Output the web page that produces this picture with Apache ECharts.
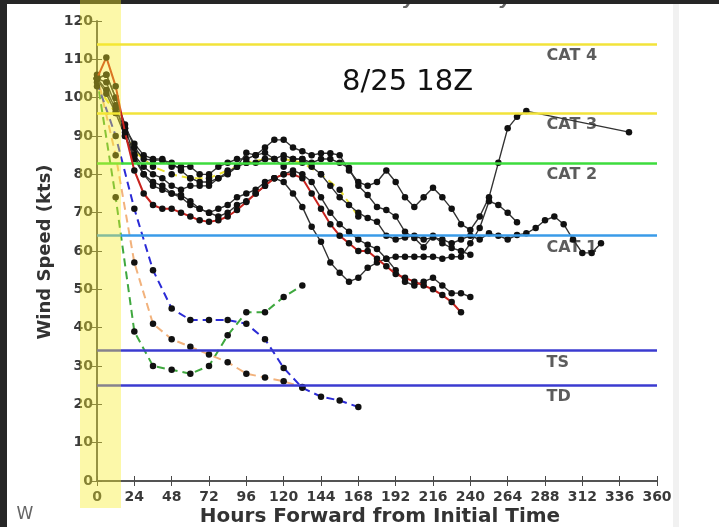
<!DOCTYPE html>
<html><head><meta charset="utf-8">
<script src="https://cdn.jsdelivr.net/npm/echarts@6/dist/echarts.min.js"></script>
<style>html,body{margin:0;padding:0;background:#fff;}#c{width:719px;height:527px;}</style>
</head><body><div id="c"></div>
<script>
// ---- data ----
const hours6 = [0,6,12,18,24,30,36,42,48,54,60,66,72,78,84,90,96,102,108,114,120,126,132,138,144,150,156,162,168,174,180,186,192,198,204,210,216,222,228,234,240,246,252,258,264,270,276,282,288,294,300,306,312,318,324];
const hours12 = [0,12,24,36,48,60,72,84,96,108,120,132,144,156,168];
const hoursA = [0,6,12,18,24,30,36,42,48,54,60,66,72,78,84,90,96,102,108,114,120,126,132,138,144,150,156,162,168,174,180,186,192,198,204,210,216,222,228,234,240,246,252,258,264,270,276,342];

const blackA = [105,102,97,92,88,85,84,84,82,82, 82,80,80,82,83,84,84,85,87,89, 89,87,86,85,85.5,85.5,85,81,78,77, 78,81,78,74,71.5,74,76.5,74,71,67, 65.5,69,74,83,92,95,96.5, 91];
const blackB = [105,104,98,90,84,80,78,77,75,74, 72,71,70,71,72,74,75,76,78,79, 78,75,71.5,66.3,62.4,57,54.3,52,53,55.6, 57,58,58.5,58.5,58.5,58.5,58.5,58,58.5,58.5, 62,66,73,72,70,67.5];
const blackC = [105,106,100,92,85,82,80,79,77,76, 77,77,77,79,80,82,83,83,84,84, 85,84,84,82,80,77,74,72,70,68.6, 67.6,64,63,63.5,64,63,63.5,63,62,63, 64,63,64.6,64,63,64.2,64.6,66,68,69, 67,63,59.5,59.5,62];
const blackD = [105,101,96,90,85,80,77,76,75,74.6, 73,71,70,69,70,72,73,75,77,79, 80,81,80,78,74,70,67,65,63,61.6, 60.5,58,55,52,51,52,53,51,49,49, 48];
const blackE = [105,106,100,93,87,84,83.7,83.7,83,81, 79,78,78,79,80.6,82,85.6,85,85.6,84, 82,84,84,83,84,84,83,81.7,77,74.6, 71.5,70.7,69,65,63.4,61,64,62,60.8,60, 59];
const redLine = [105,110.5,103,91,81,75,72,71,71,70, 69,68,67.6,68,69,70.7,72.8,75,77,79, 80,80,79,75,71,67,64,62,60,60, 58,56,54,53,52,51,50,48.5,46.7,44];

const yellowDash = [103,96,86,82,80,79,79,81,83,84,84,83,80,76,69];
const greenDash = [105,74,39,30,29,28,30,38,44,44,48,51];
const orangeDash = [106,85,57,41,37,35,33,31,28,27,26,24.5];
const blueDash = [104,90,71,55,45,42,42,42,41,37,29.5,24.3,22,21,19.3];

const catNames = ['CAT 4','CAT 3','CAT 2','CAT 1','TS','TD'];
const catLevels = [114,96,83,64,34,25];
const catColors = ['#f2e33a','#f2e33a','#3ddc3d','#3a9be8','#3b3bd0','#3b3bd0'];
const xTickLabels = ['0','24','48','72','96','120','144','168','192','216','240','264','288','312','336','360'];
const yTickLabels = ['0','10','20','30','40','50','60','70','80','90','100','110','120'];

// ---- chart ----
function pairs(hrs, vals){ return vals.map((v,i)=>[hrs[i], v]); }
const chart = echarts.init(document.getElementById('c'), null, {renderer:'canvas'});
const axisCol = '#4a4a4a';
const labelFont = {fontFamily:'DejaVu Sans', fontWeight:'bold', fontSize:14, color:'#3a3a3a'};

function blackSeries(hrs, vals){
  return {type:'line', data:pairs(hrs, vals), symbol:'circle', symbolSize:6.5, showSymbol:true,
    itemStyle:{color:'#111'}, lineStyle:{color:'#333', width:1.4}, z:4, silent:true};
}
function dashSeries(hrs, vals, col){
  return {type:'line', data:pairs(hrs, vals), symbol:'circle', symbolSize:6.5,
    itemStyle:{color:'#111'}, lineStyle:{color:col, width:2, type:[8,5]}, z:3, silent:true};
}

const series = [
  {type:'line', data:[], silent:true, z:1,
   markLine:{silent:true, symbol:['none','none'], label:{show:false}, animation:false,
     data: catLevels.map((v,i)=>({yAxis:v, lineStyle:{color:catColors[i], width:2.5, type:'solid'}}))}},
  {type:'scatter', symbolSize:0, silent:true, z:2,
   data: catLevels.map((v,i)=>({value:[289, v], label:{formatter:catNames[i]}})),
   label:{show:true, position:'inside', align:'left', verticalAlign:'middle', offset:[0,12],
     fontFamily:'DejaVu Sans', fontWeight:'bold', fontSize:16, color:'#333'}},
  dashSeries(hours12, yellowDash, '#e9e032'),
  dashSeries(hours12, greenDash, '#3fa83f'),
  dashSeries(hours12, orangeDash, '#f2b27c'),
  dashSeries(hours12, blueDash, '#2b2bd6'),
  blackSeries(hoursA, blackA),
  blackSeries(hours6, blackB),
  blackSeries(hours6, blackC),
  blackSeries(hours6, blackD),
  blackSeries(hours6, blackE),
  {type:'line', data:pairs(hours6, redLine), symbol:'circle', symbolSize:6.5,
   itemStyle:{color:'#111'}, lineStyle:{color:'#c8231e', width:2}, z:5, silent:true}
];

chart.setOption({
  animation:false,
  backgroundColor:'#ffffff',
  grid:{left:97, right:62, top:21, bottom:46, show:false},
  xAxis:[
    {type:'value', position:'bottom', min:0, max:360, interval:24,
     axisLine:{show:true, lineStyle:{color:axisCol, width:1.5}},
     axisTick:{show:true, inside:true, length:5, lineStyle:{color:axisCol}},
     axisLabel:Object.assign({margin:9, formatter:(v)=>xTickLabels[Math.round(v/24)]}, labelFont),
     splitLine:{show:false}},
    {type:'value', position:'top', min:0, max:360, interval:24,
     axisLine:{show:true, lineStyle:{color:axisCol, width:1.5}},
     axisTick:{show:true, inside:true, length:5, lineStyle:{color:axisCol}},
     axisLabel:{show:false}, splitLine:{show:false}}
  ],
  yAxis:[
    {type:'value', position:'left', min:0, max:120, interval:10,
     axisLine:{show:true, lineStyle:{color:axisCol, width:1.5}},
     axisTick:{show:true, inside:true, length:5, lineStyle:{color:axisCol}},
     axisLabel:Object.assign({margin:4, formatter:(v)=>yTickLabels[Math.round(v/10)]}, labelFont),
     splitLine:{show:false}},
    {type:'value', position:'right', min:0, max:120, interval:10,
     axisLine:{show:true, lineStyle:{color:axisCol, width:1.5}},
     axisTick:{show:true, inside:true, length:5, lineStyle:{color:axisCol}},
     axisLabel:{show:false}, splitLine:{show:false}}
  ],
  graphic:[
    {type:'text', x:237, y:8.5, z:40, style:{text:'Hurricane Harvey Intensity', font:'italic bold 18px "DejaVu Sans"', fill:'#666', align:'left', verticalAlign:'bottom'}},
    {type:'rect', z:50, shape:{x:0,y:0,width:719,height:4}, style:{fill:'#262626'}},
    {type:'rect', z:50, shape:{x:0,y:0,width:7,height:527}, style:{fill:'#262626'}},
    {type:'rect', z:50, shape:{x:673,y:4,width:6,height:523}, style:{fill:'#f1f1f1'}},
    {type:'text', x:342, y:82, z:60, style:{text:'8/25 18Z', font:'29px "DejaVu Sans"', fill:'#111', align:'left', verticalAlign:'middle'}},
    {type:'text', x:45, y:252, z:60, rotation:Math.PI/2, style:{text:'Wind Speed (kts)', font:'bold 18px "DejaVu Sans"', fill:'#333', align:'center', verticalAlign:'middle'}},
    {type:'text', x:380, y:517, z:60, style:{text:'Hours Forward from Initial Time', font:'bold 20px "DejaVu Sans"', fill:'#333', align:'center', verticalAlign:'middle'}},
    {type:'text', x:25, y:515, z:60, style:{text:'W', font:'17px "DejaVu Sans"', fill:'#666', align:'center', verticalAlign:'middle'}},
    {type:'rect', z:100, shape:{x:80,y:0,width:41,height:508}, style:{fill:'rgba(248,238,40,0.40)'}}
  ],
  series: series
});
</script>
</body></html>
